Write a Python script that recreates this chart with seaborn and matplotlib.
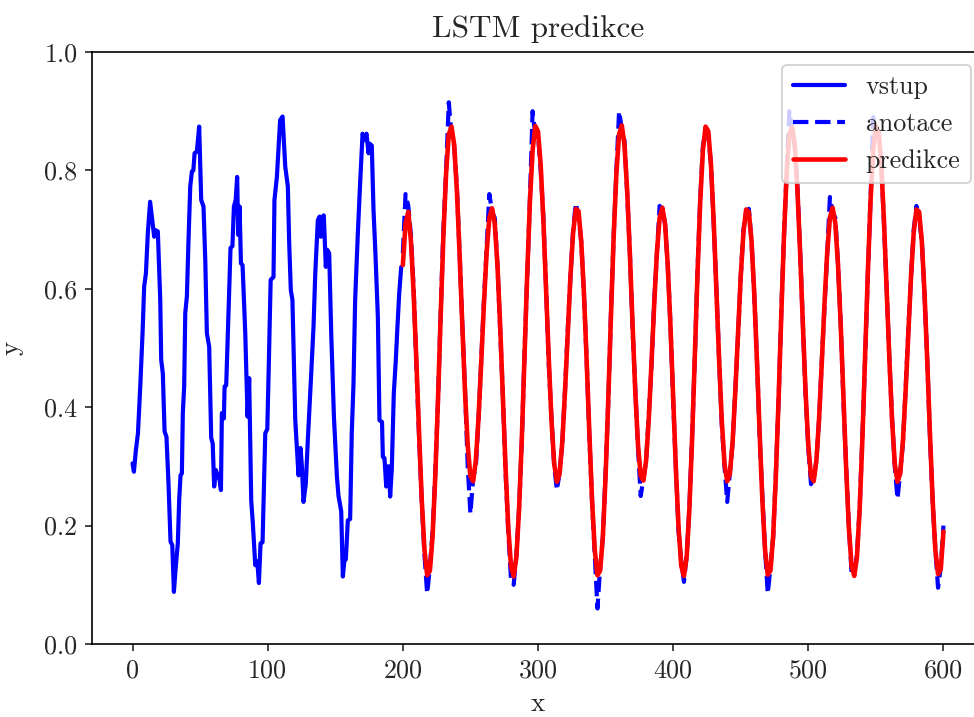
import numpy as np
import pandas as pd
import matplotlib
matplotlib.use("Agg")
import matplotlib.pyplot as plt
import seaborn as sns

sns.set_style("ticks")
plt.rcParams["font.family"] = ["cmr10", "DejaVu Serif"]
plt.rcParams["mathtext.fontset"] = "cm"
plt.rcParams["axes.formatter.use_mathtext"] = True
plt.rcParams["axes.unicode_minus"] = False

# ---- data ----
vstup_x = [0, 1, 2.5, 4, 5.7, 7.4, 8.6, 9.9, 11.3, 13, 14.3, 16, 16.8, 18.7, 20.5, 21.2, 22.4, 23.7,
           25.1, 26.6, 28.1, 29.4, 30.6, 32, 33.5, 34.5, 35.5, 36.5, 37.2, 38.2, 39, 40.2, 41.4, 42.7,
           43.9, 45, 45.9, 47.6, 49.3, 50.8, 52.5, 53.8, 55, 56.7, 58.2, 59.3, 60.4, 61.6, 63.1, 64.4,
           65.4, 66.1, 67.6, 68.1, 69.3, 71, 72.5, 73.9, 75, 76.3, 77.4, 78.2, 79.2, 80.2, 81.4, 83.4,
           85.1, 86.3, 87.8, 89, 90.8, 92.3, 93.5, 94.7, 96.2, 97.2, 98.2, 99.7, 100.8, 102.2, 104.3,
           105, 106.8, 109.2, 111, 113, 114.9, 115.9, 117.1, 118.3, 120.4, 122.8, 124.3, 125.3, 126.5,
           128.2, 129.7, 131.5, 132.2, 133.9, 135.2, 137.1, 138.4, 139.3, 140.6, 141.5, 143, 144, 145.5,
           147, 149, 151.2, 152.4, 154.4, 155.6, 156.8, 157.8, 159.3, 161, 162.2, 163.5, 164.7, 166.7,
           168.4, 170.2, 171.6, 173.1, 174.6, 175.5, 177, 178.3, 179.6, 181.5, 182.7, 184.6, 185.2,
           186.4, 187.7, 188.7, 189.7, 190.6, 191.8, 193.3, 194.8, 196, 197.3, 198.8]
vstup_y = [0.305, 0.291, 0.328, 0.356, 0.435, 0.525, 0.604, 0.626, 0.694, 0.747, 0.722, 0.688, 0.699,
           0.697, 0.581, 0.480, 0.457, 0.359, 0.350, 0.271, 0.173, 0.167, 0.088, 0.131, 0.170, 0.243,
           0.285, 0.288, 0.390, 0.435, 0.559, 0.587, 0.682, 0.773, 0.798, 0.800, 0.829, 0.832, 0.874,
           0.750, 0.739, 0.649, 0.525, 0.502, 0.348, 0.339, 0.266, 0.294, 0.285, 0.277, 0.260, 0.390,
           0.381, 0.435, 0.437, 0.559, 0.669, 0.672, 0.739, 0.750, 0.789, 0.691, 0.739, 0.643, 0.640,
           0.525, 0.384, 0.449, 0.243, 0.204, 0.133, 0.140, 0.103, 0.170, 0.172, 0.266, 0.356, 0.363,
           0.470, 0.615, 0.620, 0.750, 0.789, 0.885, 0.891, 0.806, 0.773, 0.677, 0.598, 0.581, 0.378,
           0.285, 0.331, 0.300, 0.240, 0.271, 0.345, 0.424, 0.457, 0.536, 0.626, 0.716, 0.722, 0.688,
           0.722, 0.724, 0.637, 0.666, 0.660, 0.525, 0.384, 0.283, 0.250, 0.224, 0.114, 0.142, 0.143,
           0.209, 0.211, 0.356, 0.441, 0.581, 0.694, 0.779, 0.862, 0.851, 0.862, 0.829, 0.845, 0.842,
           0.733, 0.666, 0.553, 0.378, 0.375, 0.316, 0.314, 0.266, 0.300, 0.300, 0.249, 0.294, 0.423,
           0.480, 0.536, 0.592, 0.637]

# x positions of the annotated / predicted part (every 2nd step from 200 to 600)
pred_x = list(range(200, 601, 2))

predikce_y = [
    # 200 - 266
    0.64, 0.71, 0.730, 0.680, 0.592, 0.479, 0.356, 0.243, 0.159, 0.116, 0.124, 0.182, 0.283, 0.413,
    0.555, 0.689, 0.795, 0.861, 0.874, 0.843, 0.765, 0.658, 0.538, 0.425, 0.336, 0.283, 0.275, 0.310,
    0.382, 0.476, 0.575, 0.662, 0.720, 0.736,
    # 268 - 328
    0.710, 0.640, 0.538, 0.417, 0.297, 0.197, 0.132, 0.114, 0.147, 0.228, 0.345, 0.484, 0.624, 0.746,
    0.834, 0.875, 0.866, 0.809, 0.714, 0.599, 0.480, 0.377, 0.304, 0.274, 0.288, 0.342, 0.427, 0.526,
    0.621, 0.695, 0.735,
    # 330 - 392
    0.731, 0.680, 0.592, 0.479, 0.356, 0.243, 0.159, 0.116, 0.124, 0.182, 0.283, 0.413, 0.555, 0.689,
    0.795, 0.861, 0.876, 0.843, 0.765, 0.658, 0.538, 0.425, 0.336, 0.284, 0.276, 0.310, 0.382, 0.476,
    0.575, 0.662, 0.720, 0.737,
    # 394 - 454
    0.710, 0.640, 0.538, 0.417, 0.297, 0.197, 0.132, 0.115, 0.147, 0.228, 0.345, 0.484, 0.624, 0.746,
    0.834, 0.874, 0.866, 0.809, 0.714, 0.599, 0.480, 0.377, 0.304, 0.275, 0.288, 0.342, 0.427, 0.526,
    0.621, 0.695, 0.734,
    # 456 - 518
    0.730, 0.680, 0.592, 0.479, 0.356, 0.243, 0.159, 0.117, 0.124, 0.182, 0.283, 0.413, 0.555, 0.689,
    0.795, 0.861, 0.873, 0.843, 0.765, 0.658, 0.538, 0.425, 0.336, 0.283, 0.275, 0.310, 0.382, 0.476,
    0.575, 0.662, 0.720, 0.737,
    # 520 - 580
    0.710, 0.640, 0.538, 0.417, 0.297, 0.197, 0.132, 0.115, 0.147, 0.228, 0.345, 0.484, 0.624, 0.746,
    0.834, 0.875, 0.866, 0.809, 0.714, 0.599, 0.480, 0.377, 0.304, 0.274, 0.288, 0.342, 0.427, 0.526,
    0.621, 0.695, 0.734,
    # 582 - 600
    0.730, 0.680, 0.592, 0.479, 0.356, 0.243, 0.159, 0.118, 0.126, 0.19,
]

anotace_y = [
    # 200 - 266
    0.66, 0.76, 0.74, 0.69, 0.60, 0.47, 0.35, 0.24, 0.15, 0.085, 0.13, 0.19, 0.29, 0.41, 0.56, 0.70,
    0.80, 0.915, 0.86, 0.84, 0.77, 0.66, 0.54, 0.43, 0.30, 0.22, 0.28, 0.30, 0.38, 0.48, 0.58, 0.67,
    0.76, 0.73,
    # 268 - 328
    0.72, 0.64, 0.53, 0.42, 0.29, 0.19, 0.11, 0.10, 0.15, 0.23, 0.34, 0.49, 0.62, 0.75, 0.90, 0.86,
    0.86, 0.80, 0.72, 0.60, 0.47, 0.38, 0.30, 0.26, 0.29, 0.34, 0.43, 0.53, 0.62, 0.70, 0.745,
    # 330 - 392
    0.72, 0.68, 0.59, 0.48, 0.35, 0.24, 0.15, 0.06, 0.13, 0.18, 0.29, 0.41, 0.56, 0.69, 0.80, 0.90,
    0.87, 0.85, 0.76, 0.66, 0.53, 0.43, 0.33, 0.25, 0.28, 0.31, 0.39, 0.47, 0.58, 0.66, 0.74, 0.735,
    # 394 - 454
    0.71, 0.64, 0.54, 0.41, 0.30, 0.19, 0.14, 0.105, 0.15, 0.23, 0.35, 0.48, 0.63, 0.75, 0.84, 0.87,
    0.86, 0.81, 0.71, 0.60, 0.48, 0.37, 0.30, 0.24, 0.29, 0.34, 0.43, 0.52, 0.62, 0.70, 0.73,
    # 456 - 518
    0.735, 0.68, 0.59, 0.48, 0.35, 0.25, 0.16, 0.085, 0.13, 0.18, 0.29, 0.41, 0.56, 0.69, 0.80, 0.90,
    0.87, 0.84, 0.77, 0.66, 0.54, 0.42, 0.33, 0.27, 0.28, 0.31, 0.38, 0.48, 0.57, 0.66, 0.755, 0.73,
    # 520 - 580
    0.72, 0.64, 0.54, 0.41, 0.30, 0.20, 0.12, 0.12, 0.15, 0.23, 0.35, 0.48, 0.62, 0.75, 0.89, 0.87,
    0.86, 0.81, 0.71, 0.60, 0.48, 0.38, 0.30, 0.245, 0.29, 0.34, 0.43, 0.53, 0.62, 0.70, 0.74,
    # 582 - 600
    0.72, 0.68, 0.59, 0.48, 0.35, 0.24, 0.16, 0.095, 0.13, 0.20,
]

series_labels = ["vstup", "anotace", "predikce"]
title_text = "LSTM predikce"
x_ticks = [0, 100, 200, 300, 400, 500, 600]
y_ticks = [0.0, 0.2, 0.4, 0.6, 0.8, 1.0]

df_in = pd.DataFrame({"x": vstup_x, "y": vstup_y})
df_an = pd.DataFrame({"x": pred_x, "y": anotace_y})
df_pr = pd.DataFrame({"x": pred_x, "y": predikce_y})

fig = plt.figure(figsize=(974 / 150, 717 / 150), dpi=150)
ax = fig.add_axes([92 / 974, 73 / 717, 892 / 974, 592 / 717])

sns.lineplot(data=df_in, x="x", y="y", ax=ax, color="blue", lw=2.0,
             label=series_labels[0], estimator=None, sort=False)
sns.lineplot(data=df_an, x="x", y="y", ax=ax, color="blue", lw=2.0, linestyle="--",
             label=series_labels[1], estimator=None, sort=False)
sns.lineplot(data=df_pr, x="x", y="y", ax=ax, color="red", lw=2.2,
             label=series_labels[2], estimator=None, sort=False)

ax.set_xlim(-30, 630)
ax.set_ylim(0, 1)
ax.set_xticks(x_ticks)
ax.set_yticks(y_ticks)
ax.set_xticklabels([str(v) for v in x_ticks])
ax.set_yticklabels([f"{v:.1f}" for v in y_ticks])
ax.tick_params(labelsize=12.5, width=0.8, length=3.5, direction="out")
for s in ax.spines.values():
    s.set_linewidth(0.8)
    s.set_color("black")
ax.set_title(title_text, fontsize=15, pad=7)
ax.set_xlabel("x", fontsize=13, labelpad=5)
ax.set_ylabel("y", fontsize=13, labelpad=10)
ax.legend(loc="upper right", fontsize=12.5, framealpha=0.8)

fig.savefig("out.png", dpi=150)
